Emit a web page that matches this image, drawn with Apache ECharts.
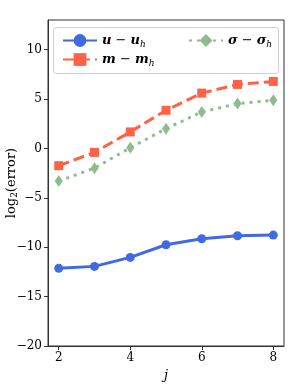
<!DOCTYPE html>
<html><head><meta charset="utf-8">
<script src="https://cdn.jsdelivr.net/npm/echarts@6/dist/echarts.min.js"></script>
<style>html,body{margin:0;padding:0;background:#fff}#c{width:299px;height:389px}</style>
</head><body><div id="c"></div>
<script>
const jValues = [2, 3, 4, 5, 6, 7, 8];
const uErr = [-12.14, -11.94, -11.03, -9.75, -9.14, -8.84, -8.77];
const mErr = [-1.75, -0.4, 1.67, 3.86, 5.6, 6.48, 6.78];
const sErr = [-3.3, -2.0, 0.06, 2.0, 3.69, 4.54, 4.87];
const xTicks = [2, 4, 6, 8];
const yTicks = [-20, -15, -10, -5, 0, 5, 10];

const serif = "'DejaVu Serif', 'Liberation Serif', serif";
const pair = (a, b) => a.map((v, i) => [v, b[i]]);
const chart = echarts.init(document.getElementById('c'), null, {renderer: 'canvas'});
const rich = {
  b: {fontFamily: serif, fontSize: 13, fontWeight: 'bold', fontStyle: 'italic', color: '#000'},
  n: {fontFamily: serif, fontSize: 13, color: '#000'},
  s: {fontFamily: serif, fontSize: 9, fontStyle: 'italic', color: '#000', verticalAlign: 'bottom', padding: [8, 0, 0, 0]}
};
const names = {
  'u': '{b|u}{n| − }{b|u}{s|h}',
  'm': '{b|m}{n| − }{b|m}{s|h}',
  's': '{b|σ}{n| − }{b|σ}{s|h}'
};
chart.setOption({
  animation: false,
  grid: {left: 48, right: 15, top: 20, bottom: 43, show: true, borderColor: '#333', borderWidth: 1,
    containLabel: false, outerBoundsMode: 'none'},
  xAxis: {
    type: 'value', min: 1.7, max: 8.3,
    name: 'j', nameLocation: 'middle', nameGap: 23, nameMoveOverlap: false,
    nameTextStyle: {fontFamily: serif, fontStyle: 'italic', fontSize: 13, color: '#000'},
    axisLine: {show: true, onZero: false, lineStyle: {color: '#333', width: 1}},
    axisTick: {show: true, length: 4, customValues: xTicks, lineStyle: {color: '#333'}},
    axisLabel: {customValues: xTicks, fontFamily: serif, fontSize: 12, color: '#000', margin: 6},
    splitLine: {show: false}
  },
  yAxis: {
    type: 'value', min: -20, max: 13,
    name: 'log{s|2}(error)', nameLocation: 'middle', nameGap: 29, nameRotate: 90, nameMoveOverlap: false,
    nameTextStyle: {fontFamily: serif, fontSize: 13, color: '#000',
      rich: {s: {fontFamily: serif, fontSize: 9, color: '#000', verticalAlign: 'bottom', padding: [6, 0, 0, 0]}}},
    axisLine: {show: true, onZero: false, lineStyle: {color: '#333', width: 1}},
    axisTick: {show: true, length: 4, customValues: yTicks, lineStyle: {color: '#333'}},
    axisLabel: {customValues: yTicks, fontFamily: serif, fontSize: 12, color: '#000', margin: 6,
      formatter: v => (v < 0 ? '−' + Math.abs(v) : '' + v)},
    splitLine: {show: false}
  },
  graphic: [{
    type: 'rect', left: 53, top: 27, z: 100,
    shape: {width: 225, height: 46, r: 3},
    style: {fill: 'rgba(255,255,255,0.8)', stroke: '#d0d0d0', lineWidth: 1}
  }],
  legend: [{
    data: ['u', 'm'], orient: 'vertical', left: 57, top: 29, itemGap: 4, z: 200,
    itemWidth: 34, itemHeight: 16,
    formatter: n => names[n], textStyle: {rich: rich, fontFamily: serif}
  }, {
    data: ['s'], orient: 'vertical', left: 183, top: 29, z: 200,
    itemWidth: 34, itemHeight: 16,
    formatter: n => names[n], textStyle: {rich: rich, fontFamily: serif}
  }],
  series: [{
    name: 'u', type: 'line', data: pair(jValues, uErr),
    symbol: 'circle', symbolSize: 9,
    itemStyle: {color: '#4169E1'}, lineStyle: {color: '#4169E1', width: 3}
  }, {
    name: 'm', type: 'line', data: pair(jValues, mErr),
    symbol: 'rect', symbolSize: 9,
    itemStyle: {color: '#FF6347'}, lineStyle: {color: '#FF6347', width: 3, type: [11, 5]}
  }, {
    name: 's', type: 'line', data: pair(jValues, sErr),
    symbol: 'diamond', symbolSize: [8, 12],
    itemStyle: {color: '#8FBC8F'}, lineStyle: {color: '#8FBC8F', width: 3, type: [3, 5]}
  }]
});
</script></body></html>
